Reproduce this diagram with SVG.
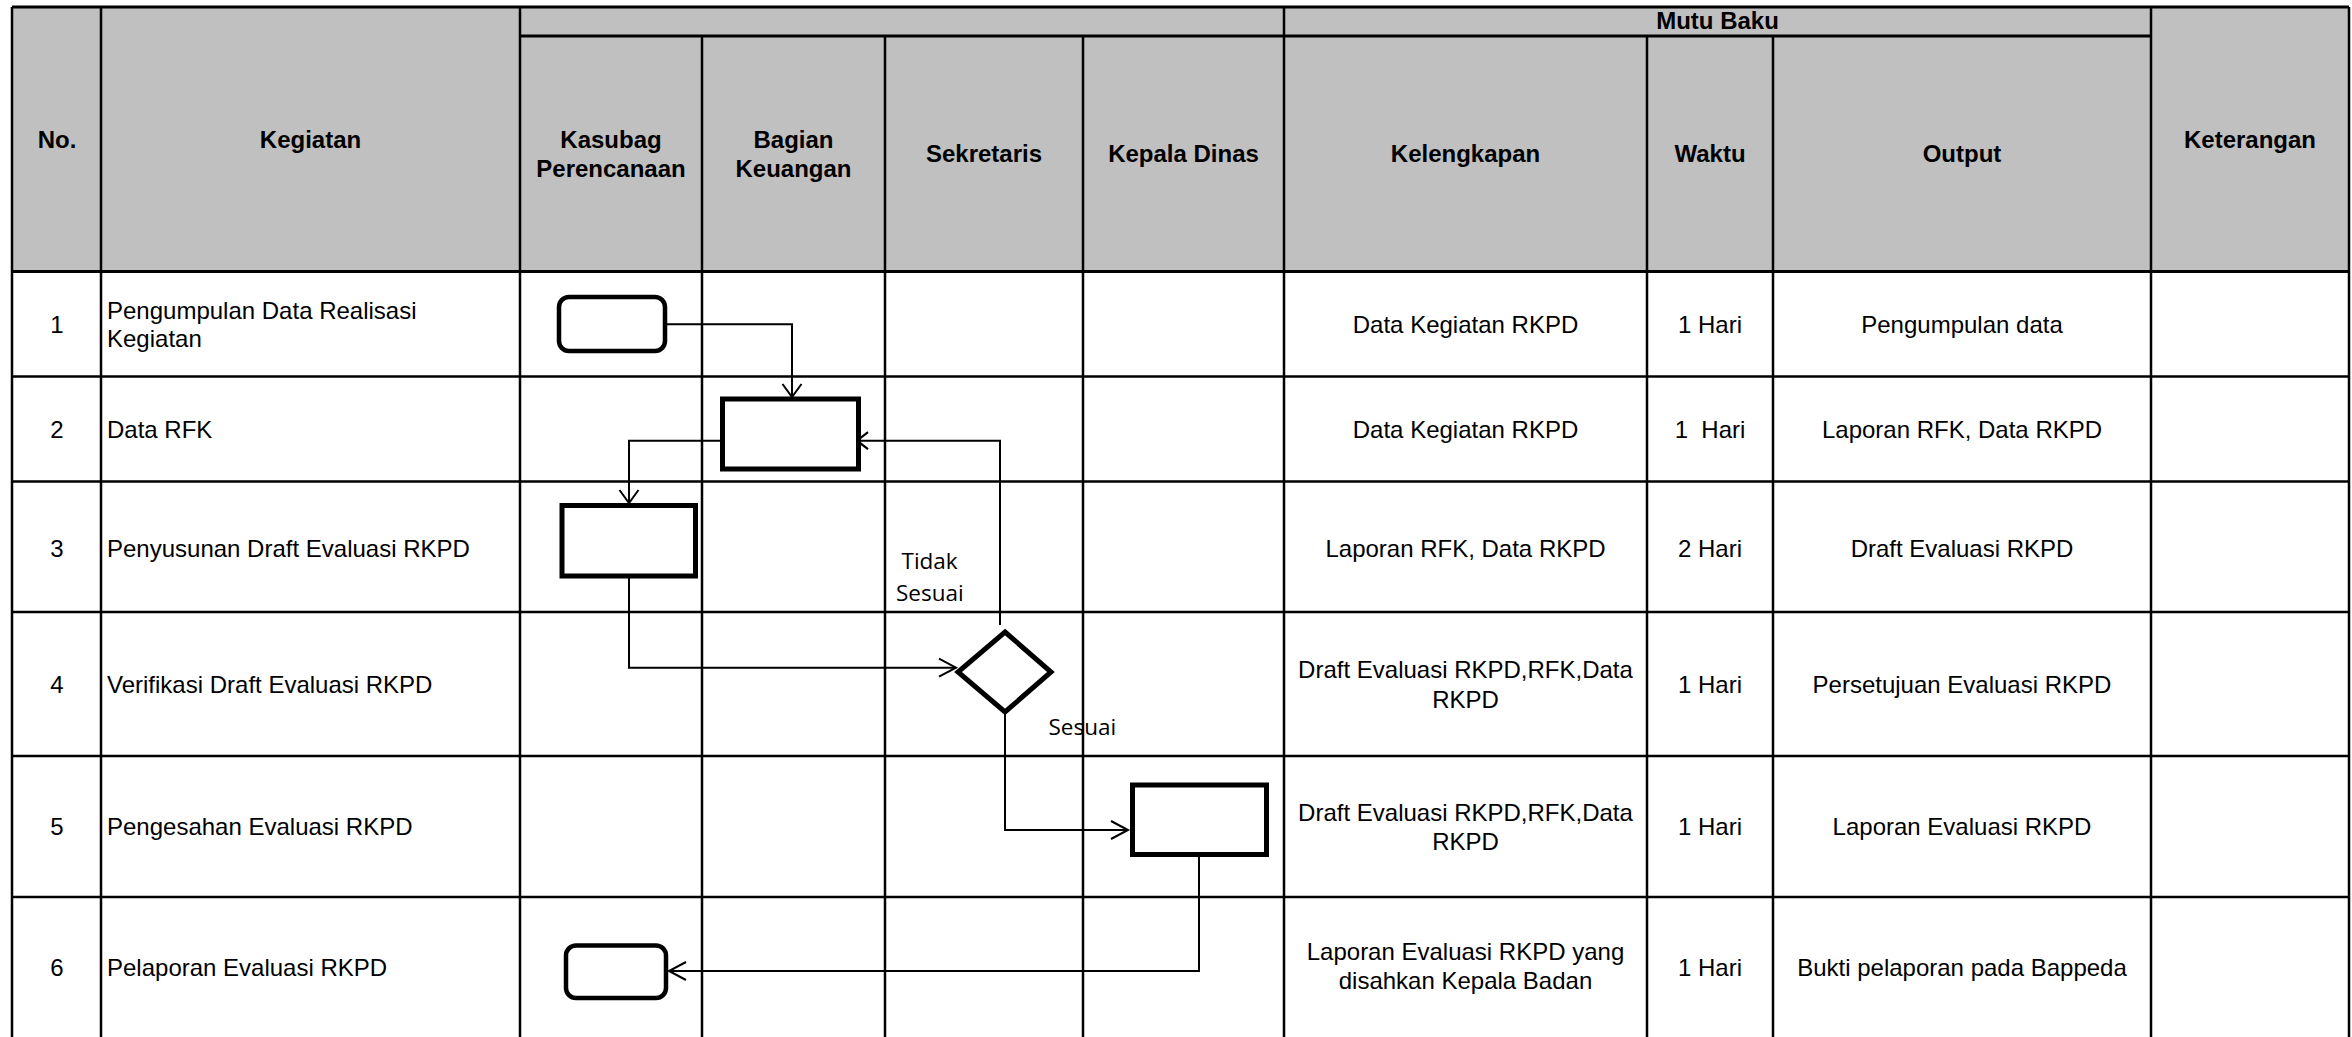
<svg xmlns="http://www.w3.org/2000/svg" width="2352" height="1037" viewBox="0 0 2352 1037">
<style>
.hd{font-family:"Liberation Sans",Arial,sans-serif;font-weight:bold;font-size:24px;fill:#000;text-anchor:middle}
.tx{font-family:"Liberation Sans",Arial,sans-serif;font-size:24px;fill:#000}
.c{text-anchor:middle}
.lb{font-family:"Open Sans","Noto Sans",sans-serif;font-size:22.5px;fill:#000}
.g{stroke:#000;stroke-width:2.5;fill:none}
.gh{stroke:#000;stroke-width:3;fill:none}
.node{fill:#fff;stroke:#000}
.conn{fill:none;stroke:#000;stroke-width:2}
</style>
<defs>
<marker id="aV" viewBox="-16 -12 20 24" refX="0" refY="0" markerWidth="20" markerHeight="24" orient="auto" markerUnits="userSpaceOnUse" overflow="visible"><path d="M-13,-9.5 L0,0 L-13,9.5" fill="none" stroke="#000" stroke-width="2"/></marker>
<marker id="aH" viewBox="-20 -12 24 24" refX="0" refY="0" markerWidth="24" markerHeight="24" orient="auto" markerUnits="userSpaceOnUse" overflow="visible"><path d="M-17,-9 L0,0 L-17,9" fill="none" stroke="#000" stroke-width="2"/></marker>
<marker id="aS" viewBox="-16 -12 20 24" refX="0" refY="0" markerWidth="20" markerHeight="24" orient="auto" markerUnits="userSpaceOnUse" overflow="visible"><path d="M-11,-8.5 L0,0 L-11,8.5" fill="none" stroke="#000" stroke-width="2.2"/></marker>
</defs>
<rect x="0" y="0" width="2352" height="1037" fill="#fff"/>
<g id="grid">
<rect x="12" y="7" width="2337" height="264.5" fill="#C0C0C0"/>
<line class="gh" x1="12" y1="7" x2="2349" y2="7"/>
<line class="gh" x1="520" y1="36" x2="2151" y2="36"/>
<line class="gh" x1="12" y1="271.5" x2="2349" y2="271.5"/>
<line class="g" x1="12" y1="376.5" x2="2349" y2="376.5"/>
<line class="g" x1="12" y1="481.5" x2="2349" y2="481.5"/>
<line class="g" x1="12" y1="612" x2="2349" y2="612"/>
<line class="g" x1="12" y1="756" x2="2349" y2="756"/>
<line class="g" x1="12" y1="897" x2="2349" y2="897"/>
<line class="g" x1="12" y1="7" x2="12" y2="1037"/>
<line class="g" x1="101" y1="7" x2="101" y2="1037"/>
<line class="g" x1="520" y1="7" x2="520" y2="1037"/>
<line class="g" x1="1284" y1="7" x2="1284" y2="1037"/>
<line class="g" x1="2151" y1="7" x2="2151" y2="1037"/>
<line class="g" x1="2349" y1="7" x2="2349" y2="1037"/>
<line class="g" x1="702" y1="36" x2="702" y2="1037"/>
<line class="g" x1="885" y1="36" x2="885" y2="1037"/>
<line class="g" x1="1083" y1="36" x2="1083" y2="1037"/>
<line class="g" x1="1647" y1="36" x2="1647" y2="1037"/>
<line class="g" x1="1773" y1="36" x2="1773" y2="1037"/>
</g>
<g id="header">
<text class="hd" x="57" y="147.5">No.</text>
<text class="hd" x="310.5" y="147.5">Kegiatan</text>
<text class="hd" x="611" y="147.5">Kasubag</text>
<text class="hd" x="611" y="176.5">Perencanaan</text>
<text class="hd" x="793.5" y="147.5">Bagian</text>
<text class="hd" x="793.5" y="176.5">Keuangan</text>
<text class="hd" x="984" y="162">Sekretaris</text>
<text class="hd" x="1183.5" y="162">Kepala Dinas</text>
<text class="hd" x="1717.5" y="29">Mutu Baku</text>
<text class="hd" x="1465.5" y="162">Kelengkapan</text>
<text class="hd" x="1710" y="162">Waktu</text>
<text class="hd" x="1962" y="162">Output</text>
<text class="hd" x="2250" y="147.5">Keterangan</text>
</g>
<g id="rows">
<text class="tx c" x="57" y="332.5">1</text>
<text class="tx" x="107" y="318.5">Pengumpulan Data Realisasi</text>
<text class="tx" x="107" y="346.5">Kegiatan</text>
<text class="tx c" x="1465.5" y="332.5">Data Kegiatan RKPD</text>
<text class="tx c" x="1710" y="332.5">1 Hari</text>
<text class="tx c" x="1962" y="332.5">Pengumpulan data</text>

<text class="tx c" x="57" y="437.5">2</text>
<text class="tx" x="107" y="437.5">Data RFK</text>
<text class="tx c" x="1465.5" y="437.5">Data Kegiatan RKPD</text>
<text class="tx c" x="1710" y="437.5" xml:space="preserve" style="white-space:pre">1  Hari</text>
<text class="tx c" x="1962" y="437.5">Laporan RFK, Data RKPD</text>

<text class="tx c" x="57" y="557">3</text>
<text class="tx" x="107" y="557">Penyusunan Draft Evaluasi RKPD</text>
<text class="tx c" x="1465.5" y="557">Laporan RFK, Data RKPD</text>
<text class="tx c" x="1710" y="557">2 Hari</text>
<text class="tx c" x="1962" y="557">Draft Evaluasi RKPD</text>

<text class="tx c" x="57" y="692.5">4</text>
<text class="tx" x="107" y="692.5">Verifikasi Draft Evaluasi RKPD</text>
<text class="tx c" x="1465.5" y="678">Draft Evaluasi RKPD,RFK,Data</text>
<text class="tx c" x="1465.5" y="707.5">RKPD</text>
<text class="tx c" x="1710" y="692.5">1 Hari</text>
<text class="tx c" x="1962" y="692.5">Persetujuan Evaluasi RKPD</text>

<text class="tx c" x="57" y="835">5</text>
<text class="tx" x="107" y="835">Pengesahan Evaluasi RKPD</text>
<text class="tx c" x="1465.5" y="820.5">Draft Evaluasi RKPD,RFK,Data</text>
<text class="tx c" x="1465.5" y="850">RKPD</text>
<text class="tx c" x="1710" y="835">1 Hari</text>
<text class="tx c" x="1962" y="835">Laporan Evaluasi RKPD</text>

<text class="tx c" x="57" y="976">6</text>
<text class="tx" x="107" y="976">Pelaporan Evaluasi RKPD</text>
<text class="tx c" x="1465.5" y="960">Laporan Evaluasi RKPD yang</text>
<text class="tx c" x="1465.5" y="989">disahkan Kepala Badan</text>
<text class="tx c" x="1710" y="976">1 Hari</text>
<text class="tx c" x="1962" y="976">Bukti pelaporan pada Bappeda</text>
</g>
<g id="connectors">
<path class="conn" d="M665,324.3 H792 V397" marker-end="url(#aV)"/>
<path class="conn" d="M722.5,440.7 H629 V503" marker-end="url(#aV)"/>
<path class="conn" d="M629,576 V667.7 H956" marker-end="url(#aH)"/>
<path class="conn" d="M1000,625 V440.7 H857" marker-end="url(#aS)"/>
<path class="conn" d="M1005,712 V830 H1128" marker-end="url(#aH)"/>
<path class="conn" d="M1199,854.5 V971 H669" marker-end="url(#aH)"/>
</g>
<g id="labels">
<text class="lb" x="901.5" y="569">Tidak</text>
<text class="lb" x="896" y="600.5">Sesuai</text>
<text class="lb" x="1048.5" y="735">Sesuai</text>
</g>
<g id="n1"><rect class="node" x="559" y="297" width="106" height="54" rx="10" stroke-width="4.5"/></g>
<g id="n2"><rect class="node" x="722.5" y="399" width="136" height="70" stroke-width="5"/></g>
<g id="n3"><rect class="node" x="562" y="505.5" width="133.5" height="70.5" stroke-width="5"/></g>
<g id="n4"><polygon class="node" points="1005,632 1051,672 1005,712 958,672" stroke-width="5"/></g>
<g id="n5"><rect class="node" x="1132.5" y="785" width="134" height="69.5" stroke-width="5"/></g>
<g id="n6"><rect class="node" x="566" y="945.5" width="100" height="52.5" rx="10" stroke-width="4.5"/></g>
</svg>
